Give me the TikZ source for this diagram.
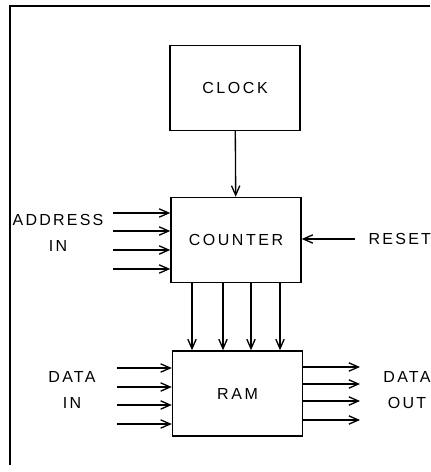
\documentclass[tikz,border=0pt]{standalone}
\usepackage{fontspec}
\setsansfont{Liberation Sans}
\usetikzlibrary{arrows.meta,positioning}
\tikzset{
  blk/.style={draw, line width=1.1pt, minimum width=97.5pt, minimum height=63.75pt, align=center, font=\sffamily\fontsize{12}{14}\selectfont\addfontfeature{LetterSpace=16}},
  lbl/.style={align=center, font=\sffamily\fontsize{12}{19.5}\selectfont\addfontfeature{LetterSpace=14}},
  arr/.style={-{Straight Barb[length=2.5mm,width=2.2mm]}, line width=1pt},
  frame/.style={line width=1.1pt}
}

\begin{document}
\begin{tikzpicture}[x=0.75pt,y=-0.75pt]
  \useasboundingbox (0,0) rectangle (430,472);
  \draw[frame] (430,6) -- (10,6) -- (10,465);

  \node[blk] (clock) at (235,88) {CLOCK};
  \node[blk] (counter) at (236,240) {COUNTER};
  \node[blk] (ram) at (237.5,393.5) {RAM};

  \draw[arr] (clock) -- (counter);

  % address lines into the counter
  \foreach \y [count=\i] in {213,231,250,269} {
    \coordinate (ain\i) at (113,\y);
    \draw[arr] (ain\i) -- (ain\i -| counter.west);
  }
  \node[lbl] (addrlbl) at (58,233) {ADDRESS\\IN};

  \coordinate (rst) at (355,239);
  \draw[arr] (rst) -- (rst -| counter.east);
  \node[lbl, anchor=west] (rstlbl) at (364,239) {RESET};

  % counter to ram bus
  \foreach \x [count=\i] in {192,223,251,280} {
    \coordinate (bx\i) at (\x,0);
    \draw[arr] (counter.south -| bx\i) -- (ram.north -| bx\i);
  }

  % data in
  \foreach \y [count=\i] in {368,387,405,424} {
    \coordinate (din\i) at (117,\y);
    \draw[arr] (din\i) -- (din\i -| ram.west);
  }
  \node[lbl] (dinlbl) at (72,390) {DATA\\IN};

  % data out
  \foreach \y [count=\i] in {367,384,401,420} {
    \coordinate (dout\i) at (360,\y);
    \draw[arr] (dout\i -| ram.east) -- (dout\i);
  }
  \node[lbl] (doutlbl) at (407,390) {DATA\\OUT};
\end{tikzpicture}
\end{document}
